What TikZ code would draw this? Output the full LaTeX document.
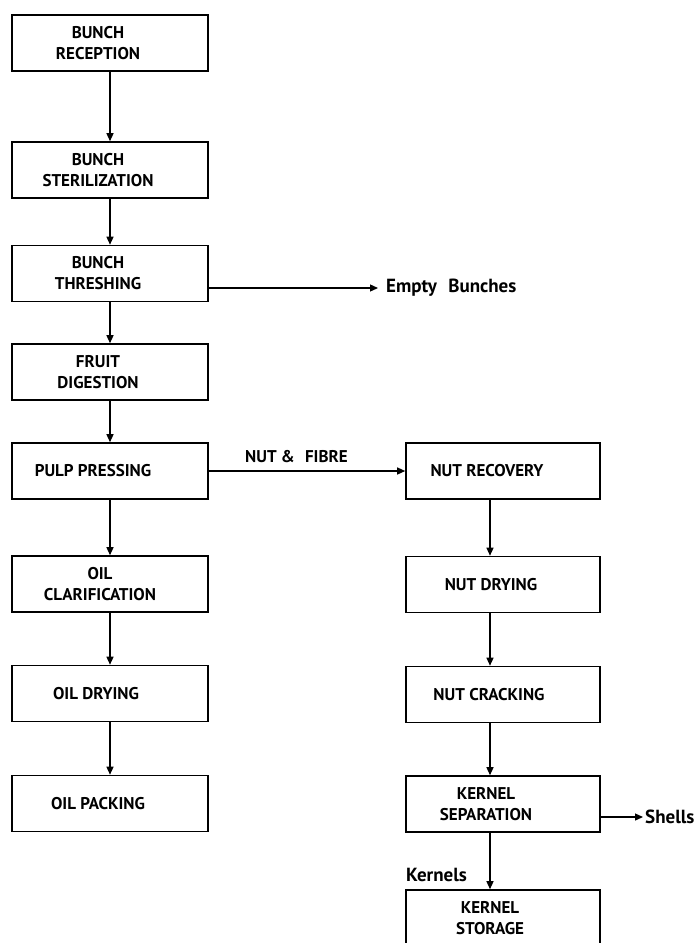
\documentclass[tikz,border=0pt]{standalone}
\usepackage{fontspec}
\setmainfont{PT Sans}
\usetikzlibrary{arrows.meta}
\begin{document}
\begin{tikzpicture}[x=1pt,y=-1pt,
  box/.style={draw,line width=1.6pt,minimum width=196pt,minimum height=56pt,inner sep=0pt},
  txt/.style={font=\bfseries\fontsize{17}{21}\selectfont,align=center,inner sep=0pt},
  lbl/.style={font=\bfseries\fontsize{19}{21}\selectfont,inner sep=0pt},
  arr/.style={line width=1.3pt,-{Triangle[length=8pt,width=7pt]}}]
\useasboundingbox (0,0) rectangle (695,943);
\clip (0,0) rectangle (695,943);
\coordinate (rx) at (490,0);
% left column
\node[box] (L1) at (110,43) {};
\node[box] (L2) at (110,170) {};
\node[box] (L3) at (110,273.5) {};
\node[box] (L4) at (110,372) {};
\node[box] (L5) at (110,471) {};
\node[box] (L6) at (110,584) {};
\node[box] (L7) at (110,693.5) {};
\node[box] (L8) at (110,803.5) {};
\node[txt] (t1) at (98,43) {BUNCH\\RECEPTION};
\node[txt] (t2) at (98,170) {BUNCH\\STERILIZATION};
\node[txt] (t3) at (98,273.5) {BUNCH\\THRESHING};
\node[txt] (t4) at (98,372) {FRUIT\\DIGESTION};
\node[txt] (t5) at (93,471) {PULP PRESSING};
\node[txt] (t6) at (100,584) {OIL\\CLARIFICATION};
\node[txt] (t7) at (96,693.5) {OIL DRYING};
\node[txt] (t8) at (98,803.5) {OIL PACKING};
% right column
\node[box,minimum width=194pt] (R1) at (503,471) {};
\node[box,minimum width=194pt] (R2) at (503,584.5) {};
\node[box,minimum width=194pt] (R3) at (503,694.5) {};
\node[box,minimum width=194pt] (R4) at (503,804) {};
\node[box,minimum width=194pt] (R5) at (503,918) {};
\node[txt] (u1) at (487,471) {NUT RECOVERY};
\node[txt] (u2) at (491,584.5) {NUT DRYING};
\node[txt] (u3) at (489,694.5) {NUT CRACKING};
\node[txt] (u4) at (486,804) {KERNEL\\SEPARATION};
\node[txt] (u5) at (490,918) {KERNEL\\STORAGE};
% arrows left
\draw[arr] (L1) -- (L2);
\draw[arr] (L2) -- (L3);
\draw[arr] (L3) -- (L4);
\draw[arr] (L4) -- (L5);
\draw[arr] (L5) -- (L6);
\draw[arr] (L6) -- (L7);
\draw[arr] (L7) -- (L8);
% arrows right
\draw[arr] (R1.south -| rx) -- (R2.north -| rx);
\draw[arr] (R2.south -| rx) -- (R3.north -| rx);
\draw[arr] (R3.south -| rx) -- (R4.north -| rx);
\draw[arr] (R4.south -| rx) -- (R5.north -| rx);
% side outputs
\coordinate (eb) at (378,288);
\draw[arr] (L3.east |- eb) -- (eb);
\node[lbl,anchor=west] (ebt) at (386,288) {Empty\hspace{0.6em}Bunches};
\draw[arr] (L5.east) -- (R1.west);
\node[txt,anchor=west] (nf) at (245,457) {NUT \&\hspace{0.6em}FIBRE};
\coordinate (sh) at (643,817);
\draw[arr] (R4.east |- sh) -- (sh);
\node[lbl,anchor=west] (sht) at (645,817) {Shells};
\node[lbl,anchor=west] (kt) at (406,875) {Kernels};
\end{tikzpicture}
\end{document}
